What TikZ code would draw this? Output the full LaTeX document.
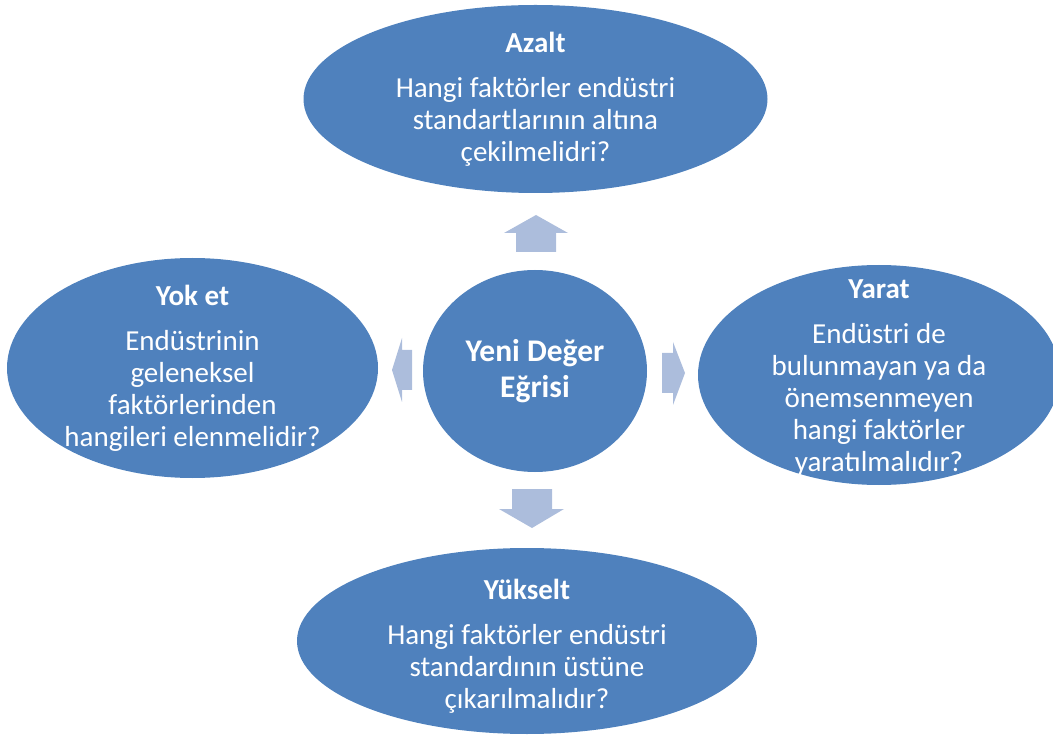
\documentclass[tikz,border=0pt]{standalone}
\usepackage{fontspec}
\setmainfont{Carlito}
\usetikzlibrary{shapes.geometric}
\definecolor{ovalblue}{RGB}{79,129,189}
\definecolor{arrowblue}{RGB}{172,189,220}
\tikzset{
    oval/.style={ellipse, fill=ovalblue, inner sep=0pt},
    ovaltext/.style={text=white, align=center, font=\fontsize{29}{32}\selectfont},
    blockarrow/.style={fill=arrowblue}
}
\begin{document}
\begin{tikzpicture}[x=1pt, y=-1pt]
    \useasboundingbox (0,0) rectangle (1053,735);
    \node[oval, minimum width=464pt, minimum height=188pt] (azalt) at (535.5,99) {};
    \node[oval, minimum width=371pt, minimum height=220pt] (yoket) at (192.5,368) {};
    \node[oval, minimum width=362pt, minimum height=220pt] (yarat) at (879,375) {};
    \node[oval, minimum width=460pt, minimum height=186pt] (yukselt) at (527,641) {};
    \node[oval, minimum width=224pt, minimum height=202pt] (egri) at (535,371) {};

    \node[ovaltext] (azalt-t) at (azalt) {\textbf{Azalt}\\[13pt]Hangi faktörler endüstri\\standartlarının altına\\çekilmelidri?};
    \node[ovaltext] (yoket-t) at (yoket) {\textbf{Yok et}\\[13pt]Endüstrinin\\geleneksel\\faktörlerinden\\hangileri elenmelidir?};
    \node[ovaltext, yshift=-3pt] (yarat-t) at (yarat) {\textbf{Yarat}\\[13pt]Endüstri de\\bulunmayan ya da\\önemsenmeyen\\hangi faktörler\\yaratılmalıdır?};
    \node[ovaltext, yshift=-5pt] (yukselt-t) at (yukselt) {\textbf{Yükselt}\\[13pt]Hangi faktörler endüstri\\standardının üstüne\\çıkarılmalıdır?};
    \node[ovaltext, font=\bfseries\fontsize{31.5}{36}\selectfont] (egri-t) at (egri) {Yeni Değer\\Eğrisi};

    \fill[blockarrow] (536,215) -- (568,233) -- (556,233) -- (556,252) -- (516,252) -- (516,233) -- (504,233) -- cycle;
    \fill[blockarrow] (532,528) -- (564,509) -- (552,509) -- (552,489) -- (512,489) -- (512,509) -- (499,509) -- cycle;
    \fill[blockarrow] (392,370) -- (402,338) -- (402,350) -- (412,350) -- (412,390) -- (402,390) -- (402,402) -- cycle;
    \fill[blockarrow] (685,373) -- (673,342) -- (673,353) -- (662,353) -- (662,393) -- (673,393) -- (673,405) -- cycle;
\end{tikzpicture}
\end{document}
